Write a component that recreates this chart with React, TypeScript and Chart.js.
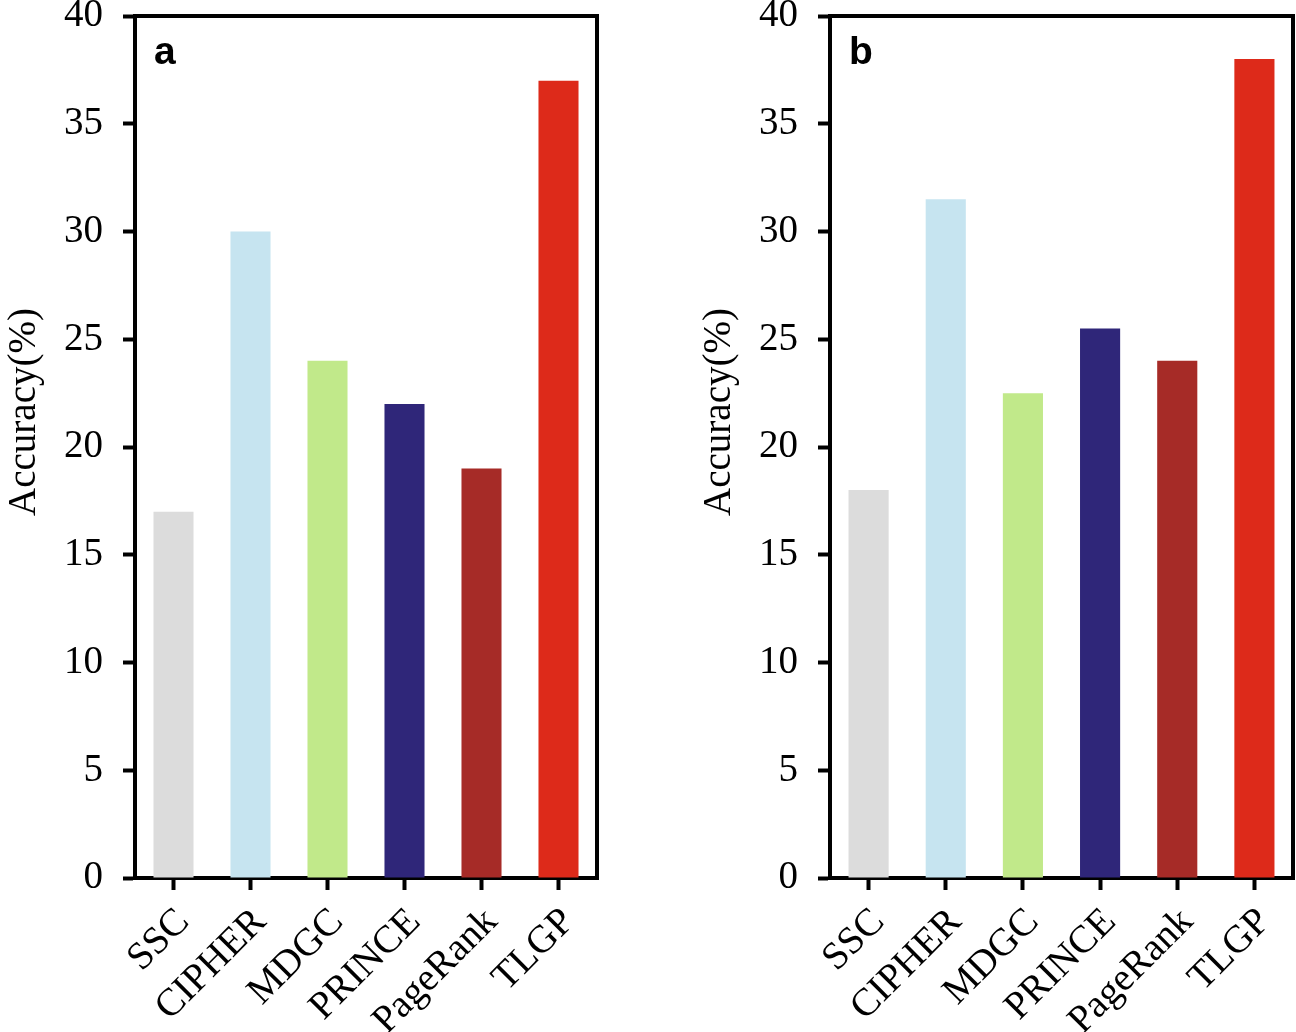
import React, { useEffect, useRef } from 'react';
import { Chart, registerables } from 'chart.js';

Chart.register(...registerables);

const categories = ['SSC', 'CIPHER', 'MDGC', 'PRINCE', 'PageRank', 'TLGP'];
const valuesA = [17, 30, 24, 22, 19, 37];
const valuesB = [18, 31.5, 22.5, 25.5, 24, 38];
const barColors = ['#DCDCDC', '#C6E4F0', '#C1E98A', '#2F2679', '#A62B27', '#DD2A1A'];
const yTicks = [0, 5, 10, 15, 20, 25, 30, 35, 40];
const yTitle = 'Accuracy(%)';

const SERIF = '"Liberation Serif", "Times New Roman", serif';
const SANS = '"Liberation Sans", Arial, sans-serif';

const framePlugin = {
  id: 'frameAndText',
  afterDraw(chart: any) {
    const { ctx, chartArea } = chart;
    const { left, right, top, bottom } = chartArea;
    const opts = chart.options.plugins.frameAndText || {};
    ctx.save();
    ctx.strokeStyle = '#000';
    ctx.lineWidth = 4;
    ctx.lineCap = 'square';
    ctx.beginPath();
    ctx.moveTo(left, top);
    ctx.lineTo(right, top);
    ctx.lineTo(right, bottom);
    ctx.stroke();
    // panel letter
    ctx.fillStyle = '#000';
    ctx.font = 'bold 39px ' + SANS;
    ctx.textAlign = 'left';
    ctx.textBaseline = 'alphabetic';
    ctx.fillText(opts.letter || '', left + 19, top + 48);
    // axis title
    ctx.font = '39px ' + SERIF;
    ctx.textAlign = 'center';
    ctx.textBaseline = 'middle';
    ctx.translate(25, (top + bottom) / 2 - 35);
    ctx.rotate(-Math.PI / 2);
    ctx.fillText(yTitle, 0, 0);
    ctx.restore();
  },
};

function Panel({ values, letter, left, padRight }: { values: number[]; letter: string; left: number; padRight: number }) {
  const ref = useRef<HTMLCanvasElement | null>(null);
  useEffect(() => {
    if (!ref.current) return;
    const chart = new Chart(ref.current, {
      type: 'bar',
      data: {
        labels: categories,
        datasets: [
          {
            data: values,
            backgroundColor: barColors,
            borderWidth: 0,
            barPercentage: 0.52,
            categoryPercentage: 1,
          },
        ],
      },
      options: {
        responsive: false,
        animation: false,
        layout: { padding: { top: 16, right: padRight, left: 0, bottom: 0 } },
        plugins: {
          legend: { display: false },
          tooltip: { enabled: false },
          frameAndText: { letter },
        } as any,
        scales: {
          x: {
            offset: true,
            grid: {
              display: true,
              drawOnChartArea: false,
              offset: false,
              tickLength: 12,
              tickWidth: 4,
              color: '#000',
            },
            border: { display: true, width: 4, color: '#000' },
            ticks: {
              color: '#000',
              font: { family: SERIF, size: 39, lineHeight: 1 },
              maxRotation: 45,
              minRotation: 45,
              autoSkip: false,
              padding: 12,
              labelOffset: 10,
            },
            afterFit: (s: any) => {
              s.height = 154;
              s.paddingLeft = 0;
              s.paddingRight = 0;
            },
          },
          y: {
            min: 0,
            max: 40,
            grid: {
              display: true,
              drawOnChartArea: false,
              tickLength: 12,
              tickWidth: 4,
              color: '#000',
            },
            border: { display: true, width: 4, color: '#000' },
            ticks: {
              color: '#000',
              font: { family: SERIF, size: 39, lineHeight: 0.8 },
              padding: 20,
            },
            afterBuildTicks: (s: any) => {
              s.ticks = yTicks.map((v) => ({ value: v }));
            },
            afterFit: (s: any) => {
              s.width = 135;
              s.paddingTop = 0;
              s.paddingBottom = 0;
            },
          },
        },
      },
      plugins: [framePlugin],
    });
    return () => chart.destroy();
  }, [values, letter, padRight]);
  return (
    <canvas
      ref={ref}
      width={601}
      height={1032}
      style={{ position: 'absolute', left, top: 0, width: 601, height: 1032 }}
    />
  );
}

export default function App() {
  return (
    <div style={{ position: 'absolute', left: 0, top: 0, width: 1296, height: 1032, background: '#fff' }}>
      <Panel values={valuesA} letter="a" left={0} padRight={4} />
      <Panel values={valuesB} letter="b" left={695} padRight={3} />
    </div>
  );
}
